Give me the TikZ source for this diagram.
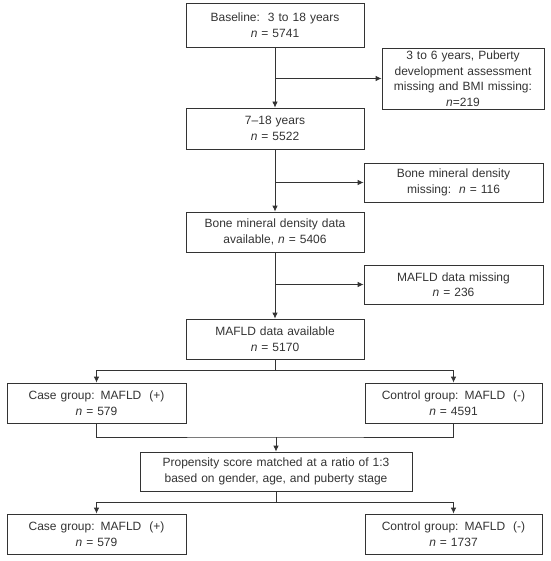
\documentclass[tikz,border=0pt]{standalone}
\usepackage{fontspec}
\setmainfont{Liberation Sans}
\usetikzlibrary{arrows.meta}
\definecolor{ink}{HTML}{333333}
\tikzset{
  box/.style={draw=ink, line width=0.8pt, text=ink, align=center, inner sep=1pt,
    font=\fontsize{12}{15.5}\selectfont},
  arr/.style={draw=ink, line width=0.8pt, -{Latex[length=6pt,width=5.5pt]}},
  ln/.style={draw=ink, line width=0.8pt}
}
\newcommand{\bx}[6]{% name, x1, y1, x2, y2, text
  \node[box, minimum width={(#4-#2)*1pt}, minimum height={(#5-#3)*1pt}, text width={(#4-#2-6)*1pt}]
    (#1) at ({(#2+#4)/2*1pt},{-(#3+#5)/2*1pt}) {#6};}
\begin{document}
\begin{tikzpicture}
\useasboundingbox (0,0) rectangle (550pt,-561pt);
\bx{b1}{186}{3}{364}{47}{Baseline:\ \ 3 to 18 years\\\textit{n} = 5741}
\bx{b2}{382}{48}{544}{109}{3 to 6 years, Puberty\\development assessment\\missing and BMI missing:\\\textit{n}=219}
\bx{b3}{186}{108}{364}{149}{7–18 years\\\textit{n} = 5522}
\bx{b4}{364}{163}{543}{202}{Bone mineral density\\missing:\ \ \textit{n} = 116}
\bx{b5}{186}{212}{364}{252}{Bone mineral density data\\available, \textit{n} = 5406}
\bx{b6}{364}{265}{543}{304}{MAFLD data missing\\\textit{n} = 236}
\bx{b7}{186}{319}{364}{359}{MAFLD data available\\\textit{n} = 5170}
\bx{b8}{7}{383}{186}{423}{Case group: MAFLD\ \ (+)\\\textit{n} = 579}
\bx{b9}{365}{383}{542}{423}{Control group: MAFLD\ \ (-)\\\textit{n} = 4591}
\bx{b10}{140}{452}{412}{491}{Propensity score matched at a ratio of 1:3\\based on gender, age, and puberty stage}
\bx{b11}{7}{514}{186}{554}{Case group: MAFLD\ \ (+)\\\textit{n} = 579}
\bx{b12}{365}{514}{542}{554}{Control group: MAFLD\ \ (-)\\\textit{n} = 1737}

\draw[arr] (b1) -- (b3);
\draw[arr] (b1.south |- b2.west) -- (b2.west);
\draw[arr] (b3) -- (b5);
\draw[arr] (b3.south |- b4.west) -- (b4.west);
\draw[arr] (b5) -- (b7);
\draw[arr] (b5.south |- b6.west) -- (b6.west);

\coordinate (j0) at (b7.south |- 0,-370pt);
\draw[ln] (b7.south) -- (j0);
\draw[arr] (j0) -| (b8.north);
\draw[arr] (j0) -| (b9.north);

\coordinate (j1) at (b10.north |- 0,-437pt);
\draw[ln] (b8.south) |- (j1) -| (b9.south);
\draw[arr] (j1) -- (b10.north);

\coordinate (j2) at (b10.south |- 0,-502pt);
\draw[ln] (b10.south) -- (j2);
\draw[arr] (j2) -| (b11.north);
\draw[arr] (j2) -| (b12.north);
\end{tikzpicture}
\end{document}
